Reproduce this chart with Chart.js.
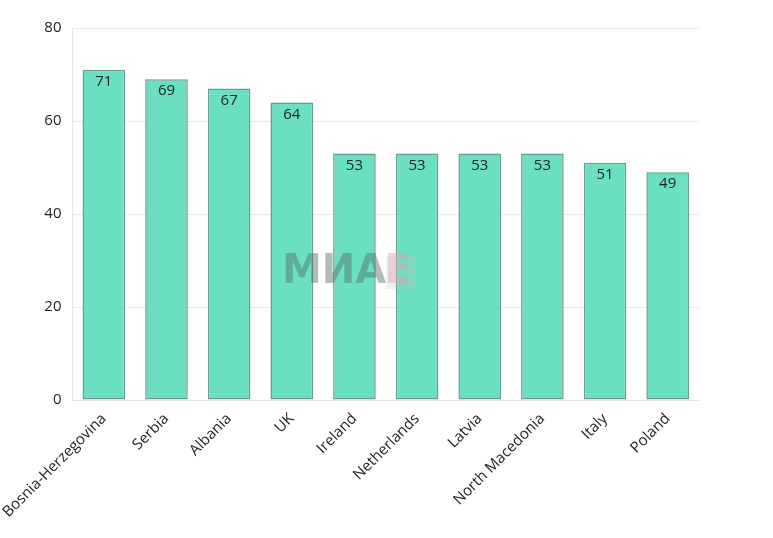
<!DOCTYPE html>
<html><head><meta charset="utf-8">
<script src="https://cdn.jsdelivr.net/npm/chart.js@4/dist/chart.umd.min.js"></script>
<style>html,body{margin:0;padding:0;background:#fff}#wrap{width:773px;height:538px}</style>
</head><body><div id="wrap"><canvas id="c" width="773" height="538"></canvas></div>
<script>
const categories = ["Bosnia-Herzegovina","Serbia","Albania","UK","Ireland","Netherlands","Latvia","North Macedonia","Italy","Poland"];
const values = [71,69,67,64,53,53,53,53,51,49];
const yTicks = [0,20,40,60,80];

const FONT = "'Open Sans', sans-serif";

const valueLabels = {
  id: 'valueLabels',
  afterDatasetsDraw(chart) {
    const ctx = chart.ctx;
    const meta = chart.getDatasetMeta(0);
    ctx.save();
    ctx.font = "15px " + FONT;
    ctx.fillStyle = "#1b2220";
    ctx.textAlign = "center";
    ctx.textBaseline = "middle";
    meta.data.forEach((bar, i) => {
      ctx.fillText(String(values[i]), bar.x, bar.y + 12);
    });
    ctx.restore();
  }
};

const watermark = {
  id: 'watermark',
  afterDatasetsDraw(chart) {
    const ctx = chart.ctx;
    ctx.save();
    ctx.font = "bold 40px 'DejaVu Sans', sans-serif";
    ctx.textBaseline = "middle";
    ctx.textAlign = "left";
    ctx.fillStyle = "rgba(190,190,190,0.22)";
    ctx.fillRect(386, 256, 30, 33);
    ctx.fillStyle = "rgba(80,110,105,0.45)";
    ctx.fillText("МИА", 282, 273);
    const w = ctx.measureText("МИА").width;
    ctx.fillStyle = "rgba(225,160,170,0.45)";
    ctx.fillText("Е", 282 + w - 2, 273);
    ctx.restore();
  }
};

new Chart(document.getElementById('c'), {
  type: 'bar',
  data: {
    labels: categories,
    datasets: [{
      data: values,
      backgroundColor: '#6adfc2',
      borderColor: '#6a9a8f',
      borderWidth: 1.5,
      borderSkipped: false,
      categoryPercentage: 0.68,
      barPercentage: 1.0
    }]
  },
  options: {
    responsive: false,
    animation: false,
    devicePixelRatio: 1,
    layout: { autoPadding: false, padding: { top: 28, right: 74, left: 0, bottom: 0 } },
    plugins: { legend: { display: false }, tooltip: { enabled: false } },
    scales: {
      x: {
        grid: { display: false },
        border: { color: '#e6e6e6' },
        ticks: { font: { family: FONT, size: 15 }, color: '#222', maxRotation: 45, minRotation: 45, autoSkip: false, padding: 2 },
        afterFit(s) { s.height = 138; }
      },
      y: {
        min: 0, max: 80,
        afterBuildTicks(s) { s.ticks = yTicks.map(v => ({ value: v })); },
        grid: { color: '#ebebeb', drawTicks: false },
        border: { color: '#e6e6e6' },
        ticks: { font: { family: FONT, size: 15 }, color: '#222', padding: 11 },
        afterFit(s) { s.width = 70; }
      }
    }
  },
  plugins: [valueLabels, watermark]
});
</script>
</body></html>
